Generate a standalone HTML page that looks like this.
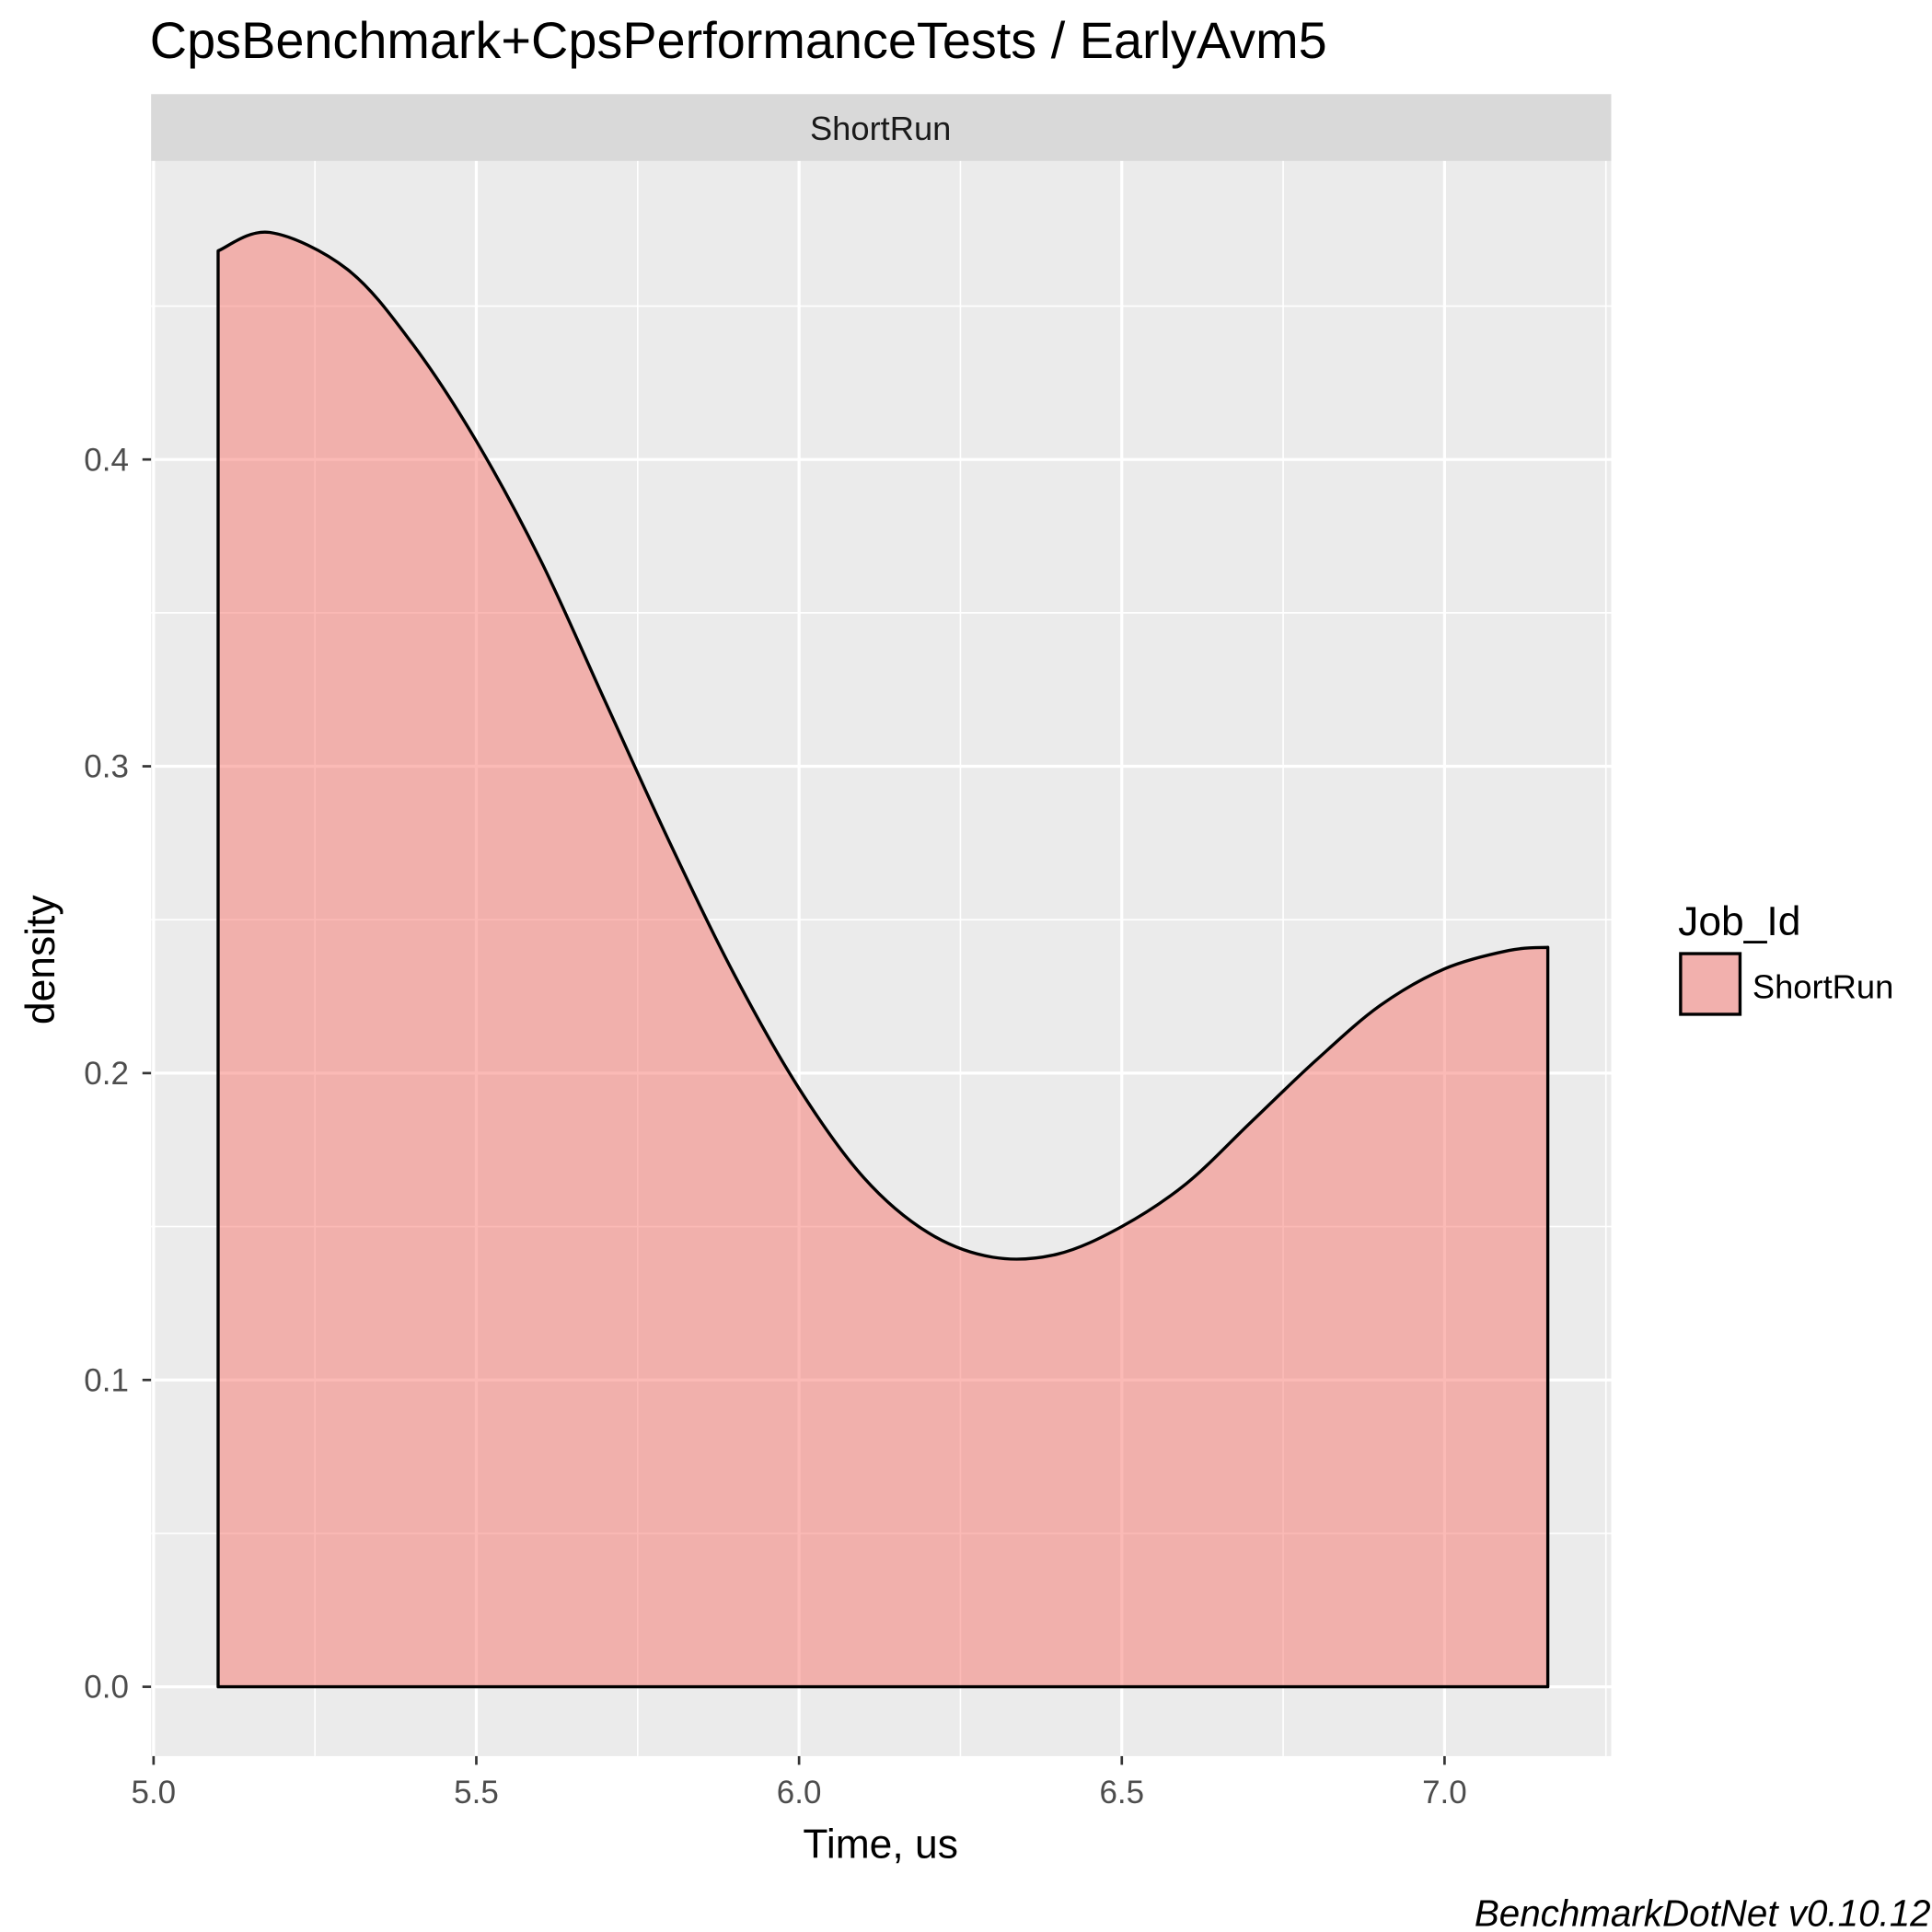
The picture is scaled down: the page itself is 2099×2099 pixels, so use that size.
<!DOCTYPE html>
<html><head><meta charset="utf-8"><style>
html,body{margin:0;padding:0;background:#fff;}
svg{display:block;font-family:"Liberation Sans",Arial,sans-serif;}
</style></head><body>
<svg id="chart" width="2099" height="2099" viewBox="0 0 1560 1560" xmlns="http://www.w3.org/2000/svg">
<rect width="1560" height="1560" fill="#fff"/>
<text x="121" y="47" font-size="41.5" fill="#000">CpsBenchmark+CpsPerformanceTests / EarlyAvm5</text>
<rect x="122" y="76" width="1179" height="54" fill="#d9d9d9"/>
<text x="711" y="113" font-size="27" text-anchor="middle" fill="#1a1a1a">ShortRun</text>
<rect x="122" y="130" width="1179" height="1288" fill="#ebebeb"/>
<g id="grid"></g>
<g id="marks"></g>
<g id="axes"></g>
<text x="711" y="1500" font-size="33" text-anchor="middle" fill="#000">Time, us</text>
<text transform="translate(44,775) rotate(-90)" font-size="33" text-anchor="middle" fill="#000">density</text>
<text x="1355" y="755" font-size="33" fill="#000">Job_Id</text>
<rect x="1357" y="770" width="48" height="49" fill="#f2b0ad" stroke="#000" stroke-width="2.5"/>
<text x="1415" y="806" font-size="27" fill="#000">ShortRun</text>
<text x="1559" y="1555" font-size="30" font-style="italic" text-anchor="end" fill="#000">BenchmarkDotNet v0.10.12</text>
</svg>
<script>
const xTicks = [5.0, 5.5, 6.0, 6.5, 7.0];
const xTickLabels = ["5.0", "5.5", "6.0", "6.5", "7.0"];
const yTicks = [0.0, 0.1, 0.2, 0.3, 0.4];
const yTickLabels = ["0.0", "0.1", "0.2", "0.3", "0.4"];
const timeValues = [5.1, 5.18, 5.3, 5.4, 5.5, 5.6, 5.7, 5.8, 5.9, 6.0, 6.1, 6.2, 6.3, 6.4, 6.5, 6.6, 6.7, 6.8, 6.9, 7.0, 7.1, 7.16];
const densityValues = [0.468, 0.474, 0.462, 0.438, 0.406, 0.367, 0.321, 0.275, 0.232, 0.195, 0.166, 0.148, 0.140, 0.141, 0.150, 0.164, 0.184, 0.204, 0.222, 0.234, 0.240, 0.241];

const NS = "http://www.w3.org/2000/svg";
const sx = v => 124 + (v - 5.0) * 521.2;
const sy = v => 1362 - v * 2477.5;
function mk(tag, attrs, parent){const e=document.createElementNS(NS,tag);for(const k in attrs)e.setAttribute(k,attrs[k]);parent.appendChild(e);return e;}
const grid=document.getElementById('grid'), marks=document.getElementById('marks'), axes=document.getElementById('axes');

for (let i=0;i<xTicks.length;i++){const m=xTicks[i]+0.25;if(sx(m)<1300){
 const l=mk('line',{x1:sx(m),x2:sx(m),y1:130,y2:1418,stroke:'#fff','stroke-width':1.2},grid);
 
 }}
for (let i=0;i<yTicks.length;i++){const m=yTicks[i]+0.05;
 const l=mk('line',{x1:122,x2:1301,y1:sy(m),y2:sy(m),stroke:'#fff','stroke-width':1.2},grid);
 
 }
xTicks.forEach((t,i)=>{
 const l=mk('line',{x1:sx(t),x2:sx(t),y1:130,y2:1418,stroke:'#fff','stroke-width':2.4},grid);
 
 
 const tk=mk('line',{x1:sx(t),x2:sx(t),y1:1418,y2:1425,stroke:'#333','stroke-width':2},axes);
 
 
 const tx=mk('text',{x:sx(t),y:1456,'font-size':26,'text-anchor':'middle',fill:'#4d4d4d'},axes);
 tx.textContent=xTickLabels[i];
 
 
});
yTicks.forEach((t,i)=>{
 const l=mk('line',{x1:122,x2:1301,y1:sy(t),y2:sy(t),stroke:'#fff','stroke-width':2.4},grid);
 
 
 const tk=mk('line',{x1:115,x2:122,y1:sy(t),y2:sy(t),stroke:'#333','stroke-width':2},axes);
 
 
 const tx=mk('text',{x:104,y:sy(t)+9,'font-size':26,'text-anchor':'end',fill:'#4d4d4d'},axes);
 tx.textContent=yTickLabels[i];
 
 
});
const pts=timeValues.map((t,i)=>[sx(t),sy(densityValues[i])]);
let d=`M${pts[0][0]},${sy(0)} L${pts[0][0]},${pts[0][1]}`;
for(let i=0;i<pts.length-1;i++){
 const p0=pts[Math.max(0,i-1)],p1=pts[i],p2=pts[i+1],p3=pts[Math.min(pts.length-1,i+2)];
 const c1=[p1[0]+(p2[0]-p0[0])/6,p1[1]+(p2[1]-p0[1])/6];
 const c2=[p2[0]-(p3[0]-p1[0])/6,p2[1]-(p3[1]-p1[1])/6];
 d+=` C${c1[0]},${c1[1]} ${c2[0]},${c2[1]} ${p2[0]},${p2[1]}`;
}
d+=` L${pts[pts.length-1][0]},${sy(0)} Z`;
const area=mk('path',{d:d,fill:'rgba(248,118,109,0.5)',stroke:'#000','stroke-width':2.5,'stroke-linejoin':'round'},marks);


</script>
</body></html>
